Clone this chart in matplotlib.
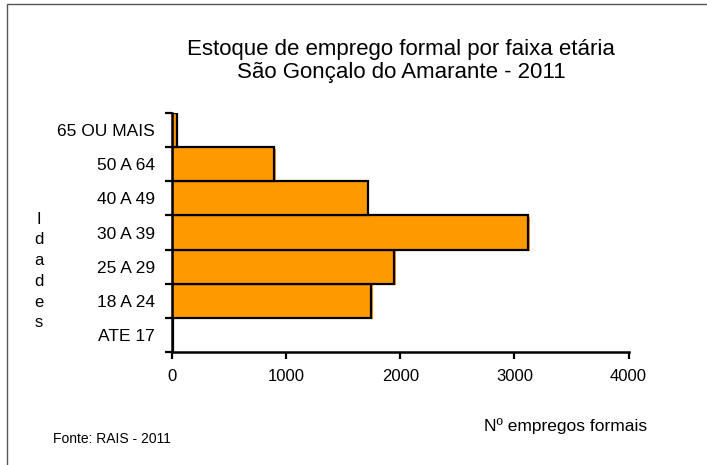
import matplotlib
matplotlib.use("Agg")
import matplotlib.pyplot as plt
import matplotlib.transforms as mtransforms
from matplotlib.patches import Rectangle

plt.rcParams['font.family'] = ['Liberation Sans', 'DejaVu Sans']

categories = ["ATE 17", "18 A 24", "25 A 29", "30 A 39", "40 A 49", "50 A 64", "65 OU MAIS"]
values = [3, 1745, 1945, 3120, 1715, 893, 40]
xticks = [0, 1000, 2000, 3000, 4000]

W, H = 707, 465
fig = plt.figure(figsize=(W / 100, H / 100), dpi=100)

# figure border (top and left visible)
fig.add_artist(Rectangle((7 / W, -0.05), 1.2, (H - 4) / H + 0.05, transform=fig.transFigure,
                         fill=False, edgecolor='#555555', linewidth=1.0))

ax = fig.add_axes([172.3 / W, (H - 352) / H, (628.5 - 172.3) / W, (352 - 113) / H])

ypos = list(range(len(categories)))
shadow = mtransforms.offset_copy(ax.transData, fig=fig, x=1.5, y=-1.5, units='dots')
ax.barh(ypos, values, height=1.0, color='#FF9900', edgecolor='none', transform=shadow, zorder=2)
ax.barh(ypos, values, height=1.0, color='#FF9900', edgecolor='black', linewidth=1.6, zorder=3)

ax.set_xlim(0, 4000)
ax.set_ylim(-0.5, len(categories) - 0.5)

ax.set_xticks(xticks)
ax.set_xticklabels([str(t) for t in xticks], fontsize=12)
ax.tick_params(axis='x', direction='out', length=5, width=1.6, pad=7)

ax.set_yticks([i - 0.5 for i in range(len(categories) + 1)])
ax.set_yticklabels([])
ax.tick_params(axis='y', which='major', direction='out', length=5, width=1.6)
ax.set_yticks(ypos, minor=True)
ax.set_yticklabels(categories, minor=True, fontsize=12.5)
ax.tick_params(axis='y', which='minor', length=0, pad=12.5)

for s in ['top', 'right']:
    ax.spines[s].set_visible(False)
for s in ['left', 'bottom']:
    ax.spines[s].set_linewidth(1.8)
    ax.spines[s].set_zorder(4)

fig.text(401 / W, 1 - 61 / H, "Estoque de emprego formal por faixa etária\nSão Gonçalo do Amarante - 2011",
         ha='center', va='center', fontsize=16, linespacing=1.1)

fig.text(39 / W, 1 - 271 / H, "I\nd\na\nd\ne\ns", ha='center', va='center', fontsize=12,
         linespacing=1.48)

fig.text(647 / W, 1 - 426 / H, "Nº empregos formais", ha='right', va='center', fontsize=12.5)
fig.text(53 / W, 1 - 439 / H, "Fonte: RAIS - 2011", ha='left', va='center', fontsize=10)

fig.savefig("out.png", dpi=100)
